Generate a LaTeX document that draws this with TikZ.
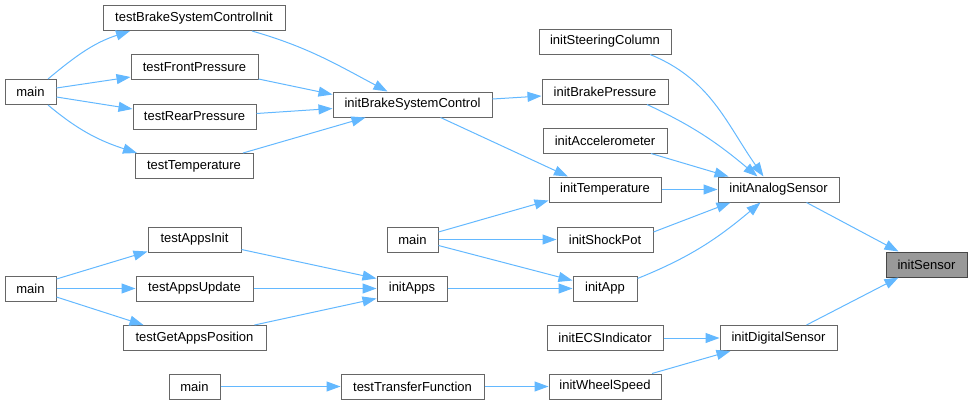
\documentclass[tikz,border=0pt]{standalone}
\usepackage{fontspec}
\setmainfont{Liberation Sans}
\usetikzlibrary{arrows.meta}
\definecolor{edgec}{HTML}{63B8FF}
\definecolor{bordc}{HTML}{666666}
\definecolor{selc}{HTML}{999999}
\tikzset{
  fn/.style={draw=bordc, fill=white, line width=1pt, minimum height=25pt, inner sep=0pt,
    font=\fontsize{13}{15}\selectfont, text=black},
  sel/.style={fn, fill=selc, draw=bordc!70!black},
  call/.style={draw=edgec, line width=1pt, -{Triangle[length=14pt,width=10pt]}, fill=none},
}
\begin{document}
\begin{tikzpicture}[x=1pt,y=1pt]
\useasboundingbox (0,0) rectangle (972,-405);
% column 1
\node[fn, minimum width=51pt] (mainA) at (30.5,-92) {main};
\node[fn, minimum width=51pt] (mainC) at (30.5,-288.5) {main};
% column 2
\node[fn, minimum width=182pt] (tBSCI) at (194,-18) {testBrakeSystemControlInit};
\node[fn, minimum width=127pt] (tFP) at (194.5,-67) {testFrontPressure};
\node[fn, minimum width=123pt] (tRP) at (194.5,-116.5) {testRearPressure};
\node[fn, minimum width=118pt] (tT) at (194,-166) {testTemperature};
\node[fn, minimum width=93pt] (tAI) at (194.5,-239.5) {testAppsInit};
\node[fn, minimum width=117pt] (tAU) at (194.5,-288.5) {testAppsUpdate};
\node[fn, minimum width=143pt] (tGAP) at (194.5,-338) {testGetAppsPosition};
\node[fn, minimum width=51pt] (mainD) at (194.5,-386.5) {main};
% column 3
\node[fn, minimum width=159pt] (iBSC) at (412.5,-104.5) {initBrakeSystemControl};
\node[fn, minimum width=51pt] (mainB) at (412.5,-239.5) {main};
\node[fn, minimum width=70pt] (iApps) at (412,-288.5) {initApps};
\node[fn, minimum width=143pt] (tTF) at (412.5,-386.5) {testTransferFunction};
% column 4
\node[fn, minimum width=132pt] (iSC) at (605,-41.5) {initSteeringColumn};
\node[fn, minimum width=126pt] (iBP) at (605,-91.5) {initBrakePressure};
\node[fn, minimum width=124pt] (iAcc) at (605,-140.5) {initAccelerometer};
\node[fn, minimum width=112pt] (iTemp) at (605,-189.5) {initTemperature};
\node[fn, minimum width=96pt] (iSP) at (605,-239.5) {initShockPot};
\node[fn, minimum width=64pt] (iApp) at (605,-288.5) {initApp};
\node[fn, minimum width=116pt] (iECS) at (605,-338) {initECSIndicator};
\node[fn, minimum width=112pt] (iWS) at (605,-386.5) {initWheelSpeed};
% column 5
\node[fn, minimum width=121pt] (iAS) at (778.5,-189.5) {initAnalogSensor};
\node[fn, minimum width=117pt] (iDS) at (778.5,-338) {initDigitalSensor};
% column 6
\node[sel, minimum width=81pt] (iSen) at (926.5,-264.5) {initSensor};
% edges
\draw[call] ([xshift=17.5pt]mainA.north) to[out=40,in=198] ([xshift=-64pt]tBSCI.south);
\draw[call] ([yshift=4pt]mainA.east) -- ([yshift=-10pt]tFP.west);
\draw[call] ([yshift=-5pt]mainA.east) -- ([yshift=7.5pt]tRP.west);
\draw[call] ([xshift=17.5pt]mainA.south) to[out=-40,in=162] ([xshift=-57pt]tT.north);
\draw[call] ([xshift=58pt]tBSCI.south) to[out=-16,in=152] ([xshift=-25pt]iBSC.north);
\draw[call] ([yshift=-12pt]tFP.east) -- ([yshift=10pt]iBSC.west);
\draw[call] ([yshift=3pt]tRP.east) -- ([yshift=-4pt]iBSC.west);
\draw[call] ([xshift=49pt]tT.north) -- ([xshift=-47pt]iBSC.south);
\draw[call] ([yshift=5.5pt]iBSC.east) -- ([yshift=-4.5pt]iBP.west);
\draw[call] ([xshift=28pt]iBSC.south) -- ([xshift=-37pt]iTemp.north);
\draw[call] ([xshift=45pt]iSC.south) to[out=-22,in=125] ([xshift=-15pt]iAS.north);
\draw[call] ([xshift=42pt]iBP.south) to[out=-25,in=140] ([xshift=-21pt]iAS.north);
\draw[call] ([xshift=46pt]iAcc.south) -- ([xshift=-50pt]iAS.north);
\draw[call] (iTemp.east) -- (iAS.west);
\draw[call] ([yshift=7.5pt]iSP.east) -- ([xshift=-48pt]iAS.south);
\draw[call] ([yshift=10pt]iApp.east) to[out=22,in=-140] ([xshift=-18pt]iAS.south);
\draw[call] ([xshift=28pt]iAS.south) -- ([xshift=-28pt]iSen.north);
\draw[call] ([xshift=28pt]iDS.north) -- ([xshift=-28pt]iSen.south);
\draw[call] ([yshift=7.5pt]mainB.east) -- ([yshift=-11pt]iTemp.west);
\draw[call] (mainB.east) -- (iSP.west);
\draw[call] ([yshift=-6pt]mainB.east) -- ([yshift=8pt]iApp.west);
\draw[call] ([yshift=9.5pt]mainC.east) -- ([yshift=-12pt]tAI.west);
\draw[call] (mainC.east) -- (tAU.west);
\draw[call] ([yshift=-8.5pt]mainC.east) -- ([xshift=-51pt]tGAP.north);
\draw[call] ([yshift=-10pt]tAI.east) -- ([yshift=10pt]iApps.west);
\draw[call] (tAU.east) -- (iApps.west);
\draw[call] ([xshift=60pt]tGAP.north) -- ([yshift=-10pt]iApps.west);
\draw[call] (iApps.east) -- (iApp.west);
\draw[call] (iECS.east) -- (iDS.west);
\draw[call] ([xshift=47pt]iWS.north) -- ([xshift=-48pt]iDS.south);
\draw[call] (mainD.east) -- (tTF.west);
\draw[call] (tTF.east) -- (iWS.west);
\end{tikzpicture}
\end{document}
